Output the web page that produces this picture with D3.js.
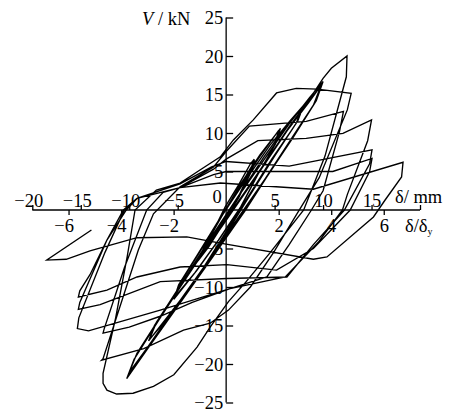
<!DOCTYPE html>
<html>
<head>
<meta charset="utf-8">
<script src="https://cdn.jsdelivr.net/npm/d3@7/dist/d3.min.js"></script>
<style>
  html, body { margin: 0; padding: 0; background: #fff; }
  svg text { font-family: "Liberation Serif", "Times New Roman", serif; fill: #000; }
</style>
</head>
<body>
<svg id="chart" width="455" height="414"></svg>
<script>
// Tick values and labels
const dispTicks = [-20, -15, -10, -5, 5, 10, 15, 20];
const dispLabels = ["−20", "−15", "−10", "−5", "5", "10", "15", ""];
const ratioTicks = [-6, -4, -2, 2, 4, 6];
const ratioLabels = ["−6", "−4", "−2", "2", "4", "6"];
const forceTicks = [-25, -20, -15, -10, -5, 5, 10, 15, 20, 25];
const forceLabels = ["−25", "−20", "−15", "−10", "−5", "5", "10", "15", "20", "25"];
const yieldDisp = 2.71; // δy, mm

// Load–displacement record [δ (mm), V (kN)], cycle by cycle
const loopElastic = [
  [0, 0], [1.2, 2.6], [2.3, 5.0], [3.0, 6.4], [2.6, 5.0], [1.3, 1.6], [0.5, 0], [-0.8, -2.4], [-2.0, -4.6], [-2.7, -5.9],
  [-2.3, -4.9], [-1.0, -1.9], [-0.1, 0.4], [1.3, 3.3], [2.5, 6.0], [2.9, 6.6], [2.4, 4.8], [1.0, 1.0], [-0.4, -2.0],
  [-1.8, -4.8], [-2.9, -6.6], [-2.4, -5.2], [-0.9, -1.8], [0.2, 0.6],
  [1.5, 3.4], [3.5, 7.2], [5.6, 10.6], [5.1, 8.6], [3.4, 4.9], [1.6, 0.6], [-0.6, -3.6], [-3.0, -7.8], [-5.4, -11.6],
  [-4.9, -9.7], [-3.0, -5.9], [-0.6, -1.0], [1.4, 3.0], [3.4, 6.8], [5.4, 10.3], [5.0, 8.4], [3.3, 4.7], [1.5, 0.4],
  [-0.8, -3.9], [-3.2, -8.1], [-5.3, -11.3], [-4.7, -9.4], [-2.8, -5.6], [-0.4, -0.7],
  [1.8, 3.5], [4.5, 8.4], [6.6, 11.6], [8.0, 13.6], [7.4, 11.6], [5.0, 7.0], [2.3, 1.6], [0.2, -2.7], [-3.0, -8.9],
  [-6.0, -13.8], [-8.0, -17.0], [-7.4, -15.0], [-5.0, -10.3], [-1.8, -4.0], [1.0, 1.3], [3.9, 6.9], [6.4, 11.3],
  [7.9, 13.3], [7.2, 11.2], [4.7, 6.6], [2.0, 1.2], [-0.2, -3.2], [-3.3, -9.4], [-6.2, -14.3], [-7.9, -16.8],
  [-7.2, -14.6], [-4.7, -9.8], [-1.4, -3.4], [1.0, 1.3],
  [3.5, 5.8], [6.5, 11.2], [8.6, 14.6], [10.0, 16.7], [9.3, 14.2], [7.0, 9.6],
  [4.2, 4.3], [2.0, 0], [-1.5, -6.3], [-5.0, -12.5], [-8.2, -18.2], [-10.26, -21.9], [-9.5, -19.4], [-7.0, -14.4],
  [-3.5, -7.6], [0, -1.3], [3.0, 4.2], [6.2, 10.2], [8.5, 14.0], [9.9, 16.4], [9.1, 13.8], [6.8, 9.4], [4.0, 4.0],
  [1.9, 0], [-1.5, -6.0], [-5.0, -12.3], [-8.2, -18.0], [-10.1, -21.4], [-9.3, -18.9], [-6.8, -13.9], [-3.3, -7.3],
  [0.2, -1.0], [3.2, 4.5], [6.3, 10.3], [8.5, 13.9], [9.8, 16.2], [9.0, 13.6], [6.7, 9.2], [4.0, 4.0], [1.8, 0],
  [-1.5, -6.0], [-5.0, -12.2], [-8.1, -17.8], [-10.0, -21.1]
];
const loop5a = [
  [-9.2, -18.6], [-6.6, -13.5], [-3.2, -7.0], [0.3, -0.6], [3.4, 5.0], [6.5, 10.8], [8.6, 14.4], [10.0, 17.1],
  [10.85, 18.4], [12.47, 20.0], [12.4, 17.3], [10.2, 7.0], [8.0, 0], [4.5, -5.6], [2.0, -9.4], [0.24, -11.9],
  [-1.65, -15.2], [-3.0, -17.8], [-5.4, -21.4], [-7.5, -22.9], [-9.6, -23.8], [-11.3, -23.9], [-12.3, -23.4],
  [-12.7, -22.5], [-12.7, -21.2]
];
const loop5b = [
  [-11.4, -14.0], [-10.2, -6.0], [-9.4, 0], [-7.2, 2.6], [-4.75, 3.5], [-2.7, 5.2], [-0.6, 6.9], [0.75, 9.1],
  [2.8, 11.7], [5.2, 15.2], [7.23, 15.8], [9.4, 15.7], [12.9, 15.15], [12.5, 13.0], [9.6, 4.2], [7.3, -0.5],
  [4.9, -5.5], [2.5, -10.0], [0.24, -13.0], [-1.65, -14.7], [-4.4, -15.6], [-8.5, -18.0], [-12.85, -19.5]
];
const loop5c = [
  [-12.7, -19.3], [-9.06, -5.2], [-7.5, -0.5], [-4.75, 3.0], [-1.3, 5.6], [0, 7.6], [2.4, 10.9], [8.26, 11.5],
  [12.1, 12.8], [11.7, 10.2], [10.0, 2.5], [8.8, 0], [6.5, -4.5], [4.2, -8.7], [0.4, -10.2], [-3.5, -12.0],
  [-6.8, -13.8], [-10.0, -15.2], [-12.7, -16.0]
];
const loop6a = [
  [-12.6, -15.5], [-10.5, -7.5], [-8.2, 0], [-6.5, 2.3], [-4.75, 2.9], [-1.3, 5.3], [0, 6.6], [3.27, 9.0],
  [8.26, 9.3], [12.05, 9.96], [15.0, 11.7], [14.6, 9.0], [12.5, 2.0], [12.0, 0], [9.5, -4.2], [6.1, -8.7],
  [0.4, -10.2], [-6.8, -13.0], [-14.2, -15.7], [-15.35, -15.4]
];
const loop6b = [
  [-15.2, -14.0], [-12.5, -5.5], [-10.5, 0], [-9.2, 1.5], [-4.75, 3.4], [-1.5, 5.6], [0, 6.3], [6.5, 5.7],
  [15.05, 7.8], [14.8, 6.0], [12.2, 0], [9.0, -4.5], [6.27, -8.7], [0.07, -8.9], [-6.8, -9.3], [-13.0, -12.3],
  [-15.25, -12.9]
];
const loop6c = [
  [-15.1, -12.0], [-12.3, -3.9], [-10.3, 0], [-9.2, 1.5], [-4.75, 2.9], [-1.3, 4.6], [0, 5.0], [11.0, 5.0],
  [15.05, 6.7], [14.8, 5.0], [12.8, 0], [9.0, -5.0], [5.2, -7.8], [0.07, -7.1], [-4.75, -7.4], [-9.2, -8.7],
  [-12.3, -10.4], [-15.25, -11.3]
];
const loop7 = [
  [-15.1, -10.5], [-14.05, -8.4], [-12.3, -3.9], [-10.6, 0], [-9.2, 1.5], [-4.75, 2.9], [-0.6, 3.5], [9.0, 2.7],
  [18.25, 6.2], [18.1, 4.3], [16.4, 1.3], [15.2, -0.9], [10.4, -6.1], [9.0, -6.4], [-0.6, -4.3], [-4.06, -3.5],
  [-9.2, -3.6], [-14.05, -5.3], [-16.5, -6.4], [-18.5, -6.5], [-13.9, -2.6]
];

const record = [].concat(loopElastic, loop5a, loop5b, loop5c, loop6a, loop6b, loop6c, loop7);

const svg = d3.select("#chart");
const fontSize = 18.5;

const x = d3.scaleLinear().domain([-20, 20]).range([32.3, 420]);
const xr = d3.scaleLinear().domain([-20 / yieldDisp, 20 / yieldDisp]).range([32.3, 420]);
const y = d3.scaleLinear().domain([-25, 25]).range([402.5, 17.5]);
const x0 = x(0), y0 = y(0);

// hysteresis curve
const line = d3.line().x(d => x(d[0])).y(d => y(d[1])).curve(d3.curveLinear);
svg.append("path")
  .datum(record)
  .attr("d", line)
  .attr("fill", "none")
  .attr("stroke", "#000")
  .attr("stroke-width", 1.35)
  .attr("stroke-linejoin", "miter");

// displacement axis (ticks above)
const gTop = svg.append("g").attr("transform", `translate(0,${y0})`)
  .call(d3.axisTop(x).tickValues(dispTicks).tickSize(5).tickSizeOuter(0).tickFormat((d, i) => dispLabels[i]));
// ratio axis (ticks below)
const gBot = svg.append("g").attr("transform", `translate(0,${y0})`)
  .call(d3.axisBottom(xr).tickValues(ratioTicks).tickSize(5).tickSizeOuter(0).tickFormat((d, i) => ratioLabels[i]));
// force axis (ticks to the right, labels to the left)
const gY = svg.append("g").attr("transform", `translate(${x0},0)`)
  .call(d3.axisRight(y).tickValues(forceTicks).tickSize(7).tickSizeOuter(0).tickFormat((d, i) => forceLabels[i]));

[gTop, gBot, gY].forEach(g => {
  g.select(".domain").attr("stroke", "#000").attr("stroke-width", 1.3);
  g.selectAll(".tick line").attr("stroke", "#000").attr("stroke-width", 1.3);
  g.selectAll(".tick text").attr("font-size", fontSize).attr("font-family", "Liberation Serif, serif").attr("fill", "#000");
});
gTop.selectAll(".tick text").attr("y", -3).attr("dy", 0)
  .attr("dx", d => d < 0 ? -4 : 0);
gBot.selectAll(".tick text").attr("y", 21.5).attr("dy", 0)
  .attr("dx", d => d < 0 ? -5 : 0);
gY.selectAll(".tick text").attr("x", -3).attr("dy", 6).attr("text-anchor", "end");
gY.select(".domain").attr("d", `M0,${y(25)}V${y(-25)}`);
gTop.select(".domain").attr("d", `M${x(-20)},0H${x(20)}`);
gBot.select(".domain").remove();

// origin label
svg.append("text").attr("x", x0 - 9).attr("y", y0 - 7).attr("text-anchor", "middle")
  .attr("font-size", fontSize).text("0");

// axis titles
const vt = svg.append("text").attr("x", 142).attr("y", 25).attr("font-size", fontSize);
vt.append("tspan").attr("font-style", "italic").text("V");
vt.append("tspan").text(" / kN");

svg.append("text").attr("x", 395).attr("y", 203).attr("font-size", fontSize).text("δ/ mm");
const rt = svg.append("text").attr("x", 405).attr("y", 231.5).attr("font-size", fontSize);
rt.append("tspan").text("δ/δ");
rt.append("tspan").attr("font-size", 10).attr("dy", 3).text("y");
</script>
</body>
</html>
